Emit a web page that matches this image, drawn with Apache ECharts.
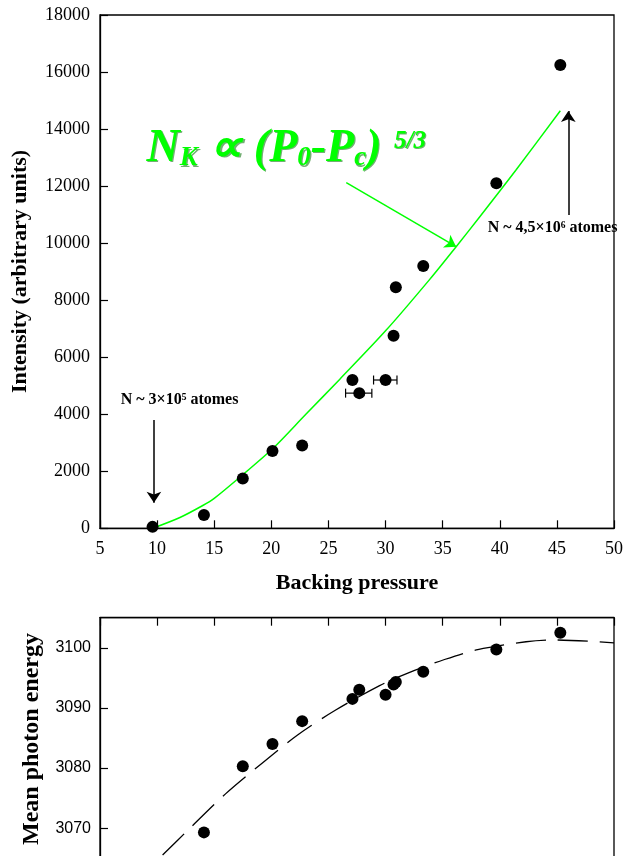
<!DOCTYPE html>
<html><head><meta charset="utf-8">
<script src="https://cdn.jsdelivr.net/npm/echarts@6/dist/echarts.min.js"></script>
<style>html,body{margin:0;padding:0;background:#fff}#c{width:623px;height:856px}</style>
</head><body><div id="c"></div>
<script>
// ---- data ----
const pressure  = [9.6, 14.1, 17.5, 20.1, 22.7, 27.1, 27.7, 30.0, 30.7, 30.9, 33.3, 39.7, 45.3];
const intensity = [50, 470, 1750, 2710, 2900, 5200, 4740, 5200, 6750, 8450, 9200, 12100, 16250];

// horizontal error bars (two points)
const errP    = [27.7, 30.0];
const errI    = [4740, 5200];
const errLow  = [26.5, 28.95];
const errHigh = [28.8, 31.0];

// green fit curve  N_K ~ (P0-Pc)^(5/3)
const fitP = [9.6, 12.0, 14.0, 15.0, 17.5, 20.15, 23.0, 26.0, 30.06, 33.85, 36.18, 38.2, 41.42, 45.3];
const fitN = [0, 380, 800, 1050, 1880, 2805, 3990, 5230, 6950, 8720, 9875, 10900, 12565, 14642];

// lower panel: mean photon energy
const pressure2 = [14.1, 17.5, 20.1, 22.7, 27.1, 27.7, 30.0, 30.7, 30.9, 33.3, 39.7, 45.3];
const energy    = [3069.3, 3080.3, 3084.0, 3087.8, 3091.5, 3093.0, 3092.2, 3093.9, 3094.3, 3096.0, 3099.7, 3102.5];

// dashed fit in lower panel
const fit2P = [10.48, 12.77, 15.99, 19.19, 22.33, 25.6, 29.48, 31.95, 35.16, 38.07, 42.3, 44.6, 47.8, 50];
const fit2E = [3065.55, 3069.8, 3075.7, 3080.8, 3085.55, 3089.6, 3093.7, 3095.8, 3098.05, 3099.7, 3101.0, 3101.3, 3101.1, 3100.8];

// axis ranges / ticks
const xRange = [5, 50], xStep = 5;
const yRange = [0, 18000], yStep = 2000;
const eRange = [3060, 3105], eStep = 10;

// annotations (data coordinates of the top panel)
const arrowGreen = [[26.56, 12119], [36.18, 9875]];
const arrowUp    = [[46.0, 10987], [46.0, 14634]];
const arrowDown  = [[9.72, 3798], [9.72, 898]];
const labelHigh  = {x: 38.94, y: 10548, text: 'N ~ 4,5×10⁶ atomes'};
const labelLow   = {x: 6.81,  y: 4499,  text: 'N ~ 3×10⁵ atomes'};
const formulaAt  = {x: 9.08,  y: 14250};

// ---- chart ----
const SERIF = "'Liberation Serif','Times New Roman',serif";
const SANS = "'Liberation Sans',Arial,sans-serif";
const zip = (a, b) => a.map((v, i) => [v, b[i]]);

const chart = echarts.init(document.getElementById('c'), null, {renderer: 'canvas'});

const axisLine = {show: true, lineStyle: {color: '#000', width: 1.3}};
const tickIn = {show: true, inside: true, length: 8, lineStyle: {color: '#000', width: 1.2}};
const green = '#00ff00';

const option = {
  animation: false,
  backgroundColor: '#fff',
  grid: [
    {left: 100, top: 15, right: 9, height: 513.3, outerBoundsMode: 'none', containLabel: false,
     show: true, borderColor: '#000', borderWidth: 1.3, backgroundColor: 'transparent'},
    {left: 100, top: 617.7, right: 9, height: 270.6, outerBoundsMode: 'none', containLabel: false,
     show: true, borderColor: '#000', borderWidth: 1.3, backgroundColor: 'transparent'}
  ],
  xAxis: [
    {gridIndex: 0, type: 'value', min: xRange[0], max: xRange[1], interval: xStep,
     axisLine: axisLine, axisTick: tickIn, splitLine: {show: false},
     axisLabel: {color: '#000', fontFamily: SERIF, fontSize: 18, margin: 12, formatter: v => String(v)}},
    {gridIndex: 1, type: 'value', position: 'top', min: xRange[0], max: xRange[1], interval: xStep,
     axisLine: axisLine, axisTick: tickIn, splitLine: {show: false}, axisLabel: {show: false}}
  ],
  yAxis: [
    {gridIndex: 0, type: 'value', min: yRange[0], max: yRange[1], interval: yStep,
     axisLine: axisLine, axisTick: tickIn, splitLine: {show: false},
     axisLabel: {color: '#000', fontFamily: SERIF, fontSize: 18, margin: 10, formatter: v => String(v)}},
    {gridIndex: 1, type: 'value', min: eRange[0], max: eRange[1], interval: eStep,
     axisLine: axisLine, axisTick: tickIn, splitLine: {show: false},
     axisLabel: {color: '#000', fontFamily: SANS, fontSize: 16, margin: 9, showMaxLabel: false,
                 formatter: v => String(v)}}
  ],
  series: [
    {type: 'line', xAxisIndex: 0, yAxisIndex: 0, data: zip(fitP, fitN), smooth: 0.3, symbol: 'none',
     lineStyle: {color: green, width: 1.5}, z: 2, silent: true,
     markLine: {silent: true, symbol: ['none', 'arrow'], symbolSize: 11,
       lineStyle: {color: green, width: 1.5, type: 'solid'}, label: {show: false},
       data: [[{coord: arrowGreen[0]}, {coord: arrowGreen[1]}]]}},
    {type: 'custom', xAxisIndex: 0, yAxisIndex: 0, z: 3, silent: true,
     data: errP.map((p, i) => [p, errI[i], errLow[i], errHigh[i]]),
     renderItem: (params, api) => {
       const a = api.coord([api.value(2), api.value(1)]);
       const b = api.coord([api.value(3), api.value(1)]);
       const h = 4.5;
       const st = {stroke: '#000', lineWidth: 1.2};
       return {type: 'group', children: [
         {type: 'line', shape: {x1: a[0], y1: a[1], x2: b[0], y2: b[1]}, style: st},
         {type: 'line', shape: {x1: a[0], y1: a[1] - h, x2: a[0], y2: a[1] + h}, style: st},
         {type: 'line', shape: {x1: b[0], y1: b[1] - h, x2: b[0], y2: b[1] + h}, style: st}
       ]};
     }},
    {type: 'scatter', xAxisIndex: 0, yAxisIndex: 0, data: zip(pressure, intensity), symbol: 'circle',
     symbolSize: 12, itemStyle: {color: '#000', opacity: 1}, z: 4, silent: true,
     markLine: {silent: true, symbol: ['none', 'arrow'], symbolSize: 11,
       lineStyle: {color: '#000', width: 1.5, type: 'solid'}, label: {show: false},
       data: [[{coord: arrowUp[0]}, {coord: arrowUp[1]}], [{coord: arrowDown[0]}, {coord: arrowDown[1]}]]}},
    {type: 'line', xAxisIndex: 1, yAxisIndex: 1, data: zip(fit2P, fit2E), smooth: 0.3, symbol: 'none',
     lineStyle: {color: '#000', width: 1.3, type: [30, 12]}, z: 2, silent: true},
    {type: 'scatter', xAxisIndex: 1, yAxisIndex: 1, data: zip(pressure2, energy), symbol: 'circle',
     symbolSize: 12, itemStyle: {color: '#000', opacity: 1}, z: 4, silent: true}
  ]
};
chart.setOption(option);

// ---- text annotations ----
const px = (p) => chart.convertToPixel({gridIndex: 0}, p);
const fPos = px([formulaAt.x, formulaAt.y]);
const hiPos = px([labelHigh.x, labelHigh.y]);
const loPos = px([labelLow.x, labelLow.y]);

const fMain = {fontSize: 46, fontWeight: 'bold', fontStyle: 'italic', fontFamily: SERIF, fill: green, lineHeight: 50, verticalAlign: 'bottom'};
const fSub = {fontSize: 27, fontWeight: 'bold', fontStyle: 'italic', fontFamily: SERIF, fill: green, lineHeight: 14, verticalAlign: 'bottom'};
const fSup = {fontSize: 25, fontWeight: 'bold', fontStyle: 'italic', fontFamily: SERIF, fill: green, lineHeight: 28, verticalAlign: 'top', padding: [7, 0, 0, 0]};

chart.setOption({
  graphic: [
    {type: 'text', x: fPos[0], y: fPos[1], z: 10, silent: true,
     style: {text: '{n|N}{s|K}{n| ∝ (P}{s|0}{n|-P}{s|c}{n|)}{p|  5/3}', align: 'left', verticalAlign: 'top',
       textShadowColor: 'rgba(0,110,0,0.55)', textShadowOffsetX: 1.2, textShadowOffsetY: 1.2, textShadowBlur: 0.5,
       rich: {n: fMain, s: fSub, p: fSup}}},
    {type: 'text', x: hiPos[0], y: hiPos[1], z: 10, silent: true,
     style: {text: labelHigh.text, fontFamily: SERIF, fontWeight: 'bold', fontSize: 16, fill: '#000',
       align: 'left', verticalAlign: 'middle'}},
    {type: 'text', x: loPos[0], y: loPos[1], z: 10, silent: true,
     style: {text: labelLow.text, fontFamily: SERIF, fontWeight: 'bold', fontSize: 16, fill: '#000',
       align: 'left', verticalAlign: 'middle'}},
    {type: 'text', x: 20, y: 271.5, rotation: Math.PI / 2, silent: true,
     style: {text: 'Intensity (arbitrary units)', fontFamily: SERIF, fontWeight: 'bold', fontSize: 22,
       fill: '#000', align: 'center', verticalAlign: 'middle'}},
    {type: 'text', x: 357, y: 583, silent: true,
     style: {text: 'Backing pressure', fontFamily: SERIF, fontWeight: 'bold', fontSize: 22,
       fill: '#000', align: 'center', verticalAlign: 'middle'}},
    {type: 'text', x: 32, y: 739, rotation: Math.PI / 2, silent: true,
     style: {text: 'Mean photon energy', fontFamily: SERIF, fontWeight: 'bold', fontSize: 24,
       fill: '#000', align: 'center', verticalAlign: 'middle'}}
  ]
});
</script>
</body></html>
